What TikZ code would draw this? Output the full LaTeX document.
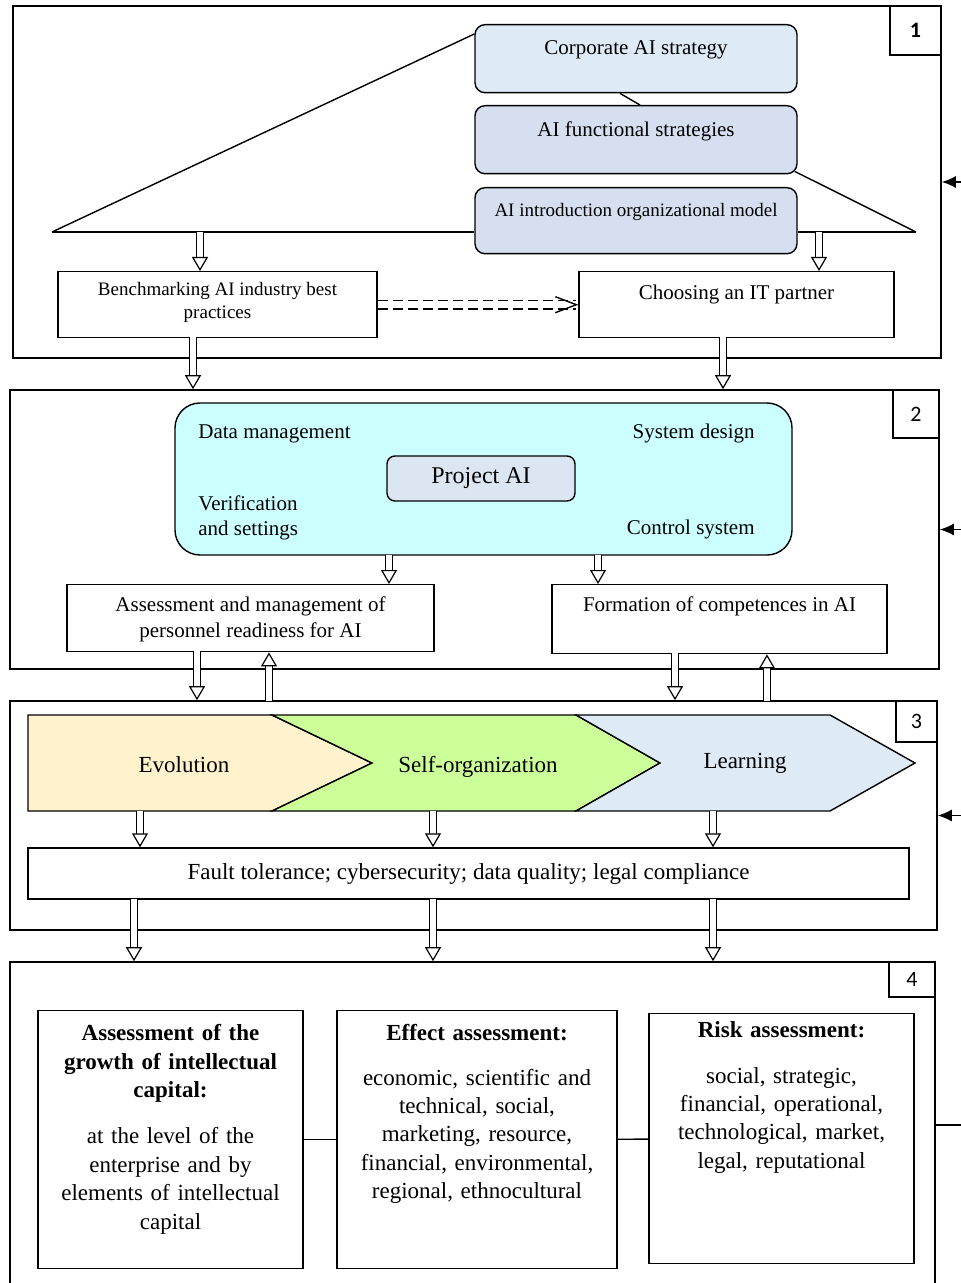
\documentclass[tikz,border=0pt]{standalone}
\usepackage{fontspec}
\setmainfont{Liberation Serif}
\newfontfamily\numfont{Carlito}
\usetikzlibrary{arrows.meta,positioning}

\definecolor{strategyblue}{HTML}{DEEAF6}
\definecolor{modelblue}{HTML}{D6DFF0}
\definecolor{projectcyan}{HTML}{CCFFFF}
\definecolor{projectai}{HTML}{DCE6F2}
\definecolor{evolyellow}{HTML}{FFF2CC}
\definecolor{selfgreen}{HTML}{CCFF99}
\definecolor{learnblue}{HTML}{DEEAF6}

\newcommand{\boxfont}{\fontsize{10.5}{13}\selectfont}
\newcommand{\smallboxfont}{\fontsize{9.5}{11.5}\selectfont}
\newcommand{\bigboxfont}{\fontsize{11.5}{14.2}\selectfont}

\begin{document}
\begin{tikzpicture}[x=0.5pt,y=-0.5pt,
    panel/.style={draw,line width=0.8pt,inner sep=0pt},
    numbox/.style={draw,line width=0.8pt,inner sep=0pt,anchor=north east,font=\numfont\fontsize{11}{13}\selectfont},
    rbox/.style={draw,line width=0.7pt,rounded corners=5pt,inner sep=0pt,align=center,anchor=north,font=\boxfont},
    box/.style={draw,line width=0.7pt,inner sep=0pt,align=center,anchor=north,font=\boxfont},
    harrow/.style={double,double distance=3pt,line width=0.6pt,-{Triangle[open,fill=white,line width=0.6pt,length=7pt,width=8pt]}},
    dasharrow/.style={double,dash pattern=on 5pt off 2.5pt,double distance=3.5pt,line width=0.75pt,-{Straight Barb[line width=0.7pt,length=10.5pt,width=8pt]}},
    fb/.style={line width=0.7pt,-{Latex[length=7pt,width=6pt]}},
    chevron/.style={draw,line width=0.7pt},
  ]
\useasboundingbox (0,0) rectangle (961,1283);

% the four stages
\node[panel,minimum width=464pt,minimum height=176pt] (p1) at (477,182) {};
\node[panel,minimum width=464.5pt,minimum height=139.5pt] (p2) at (474.5,529.5) {};
\node[panel,minimum width=463.5pt,minimum height=114.5pt] (p3) at (473.5,815.5) {};
\node[panel,minimum width=462.5pt,minimum height=163pt] (p4) at (472.5,1125) {};
\node[numbox,minimum width=25.5pt,minimum height=24.5pt,font=\numfont\bfseries\fontsize{11}{13}\selectfont] (n1) at (p1.north east) {1};
\node[numbox,minimum width=23pt,minimum height=24pt] (n2) at (p2.north east) {2};
\node[numbox,minimum width=20.5pt,minimum height=20.5pt] (n3) at (p3.north east) {3};
\node[numbox,minimum width=23pt,minimum height=17.5pt] (n4) at (p4.north east) {4};

% feedback from the right
\coordinate (r1) at (966,182);
\coordinate (r2) at (966,529.5);
\coordinate (r3) at (966,815.5);
\coordinate (r4) at (966,1125);
\draw[fb] (r1) -- (p1.east);
\draw[fb] (r2) -- (p2.east);
\draw[fb] (r3) -- (p3.east);
\draw[line width=0.7pt] (p4.east) -- (r4);

% stage 1: strategy
\node[rbox,fill=strategyblue,minimum width=161pt,text height=15pt,text depth=19pt] (corp) at (636,24) {Corporate AI strategy};
\node[rbox,fill=modelblue,minimum width=161pt,text height=15.5pt,text depth=18.5pt] (func) at (636,105) {AI functional strategies};
\node[rbox,fill=modelblue,minimum width=161pt,text height=14.5pt,text depth=18.5pt,font=\smallboxfont] (orgmodel) at (636,187) {AI introduction organizational model};
\node[box,minimum width=159.5pt,text height=23.5pt,text depth=9.5pt,font=\smallboxfont] (bench) at (217.5,271) {Benchmarking AI industry best\\practices};
\node[box,minimum width=157.5pt,text height=14pt,text depth=19pt] (partner) at (736.5,271) {Choosing an IT partner};

\coordinate (tl) at (52,232);
\coordinate (tr) at (916,232);
\draw[line width=0.7pt] (tl) -- ([yshift=-5pt]corp.north west);
\draw[line width=0.7pt] ([xshift=-8pt]corp.south) -- ([xshift=2pt]func.north);
\draw[line width=0.7pt] (tr) -- ([xshift=-1.5pt,yshift=1.5pt]func.south east);
\draw[line width=0.7pt] (tl) -- (orgmodel.west |- tl);
\draw[line width=0.7pt] (orgmodel.east |- tr) -- (tr);

\coordinate (t1) at (200,232);
\coordinate (t2) at (819,232);
\draw[harrow] (t1) -- (t1 |- bench.north);
\draw[harrow] (t2) -- (t2 |- partner.north);
\draw[dasharrow] (bench.east) -- (partner.west);

\coordinate (b1) at (193,337);
\coordinate (b2) at (723,337);
\draw[harrow] (b1) -- (b1 |- p2.north);
\draw[harrow] (b2) -- (b2 |- p2.north);

% stage 2: project
\node[rbox,fill=projectcyan,rounded corners=12.5pt,minimum width=308.5pt,minimum height=76pt,anchor=center] (proj) at (483.5,479) {};
\node[rbox,fill=projectai,rounded corners=4pt,minimum width=94pt,minimum height=22.5pt,anchor=center,font=\fontsize{12}{14}\selectfont] (projai) at (481,478.5) {Project AI};
\node[anchor=base west,inner sep=0pt,font=\boxfont] (datam) at (198,438) {Data management};
\node[anchor=base east,inner sep=0pt,font=\boxfont] (sysdes) at (755,438) {System design};
\node[anchor=north west,inner sep=0pt,align=left,font=\fontsize{10.5}{12.5}\selectfont] (verif) at (198,495) {Verification\\and settings};
\node[anchor=base east,inner sep=0pt,font=\boxfont] (ctrl) at (755,534) {Control system};

\node[box,minimum width=183.5pt,text height=26.5pt,text depth=7pt] (assess) at (250.5,584) {Assessment and management of\\personnel readiness for AI};
\node[box,minimum width=167.5pt,text height=13.5pt,text depth=21pt] (compet) at (719.5,584) {Formation of competences in AI};

\coordinate (d1) at (389,555);
\coordinate (d2) at (598,555);
\draw[harrow] (d1) -- (d1 |- assess.north);
\draw[harrow] (d2) -- (d2 |- compet.north);

\coordinate (d3) at (197,651);
\coordinate (d4) at (675,653);
\coordinate (u1) at (269,701);
\coordinate (u2) at (767,701);
\draw[harrow] (d3) -- (d3 |- p3.north);
\draw[harrow] (d4) -- (d4 |- p3.north);
\draw[harrow] (u1) -- (u1 |- assess.south);
\draw[harrow] (u2) -- (u2 |- compet.south);

% stage 3: development
\filldraw[chevron,fill=evolyellow] (28,715) -- (272,715) -- (372,763) -- (272,811) -- (28,811) -- cycle;
\filldraw[chevron,fill=selfgreen] (272,715) -- (576,715) -- (660,763) -- (576,811) -- (272,811) -- (372,763) -- cycle;
\filldraw[chevron,fill=learnblue] (576,715) -- (830,715) -- (915,763) -- (830,811) -- (576,811) -- (660,763) -- cycle;
\node[font=\bigboxfont] (evol) at (184,765) {Evolution};
\node[font=\bigboxfont] (selforg) at (478,767) {Self-organization};
\node[font=\bigboxfont] (learn) at (745,763) {Learning};

\node[box,minimum width=440.5pt,minimum height=25.5pt,anchor=center,font=\bigboxfont] (fault) at (468.5,873.5) {Fault tolerance; cybersecurity; data quality; legal compliance};

\coordinate (c1) at (140,811);
\coordinate (c2) at (433,811);
\coordinate (c3) at (713,811);
\draw[harrow] (c1) -- (c1 |- fault.north);
\draw[harrow] (c2) -- (c2 |- fault.north);
\draw[harrow] (c3) -- (c3 |- fault.north);

\coordinate (f1) at (134,899);
\coordinate (f2) at (433,899);
\coordinate (f3) at (713,899);
\draw[harrow] (f1) -- (f1 |- p4.north);
\draw[harrow] (f2) -- (f2 |- p4.north);
\draw[harrow] (f3) -- (f3 |- p4.north);

% stage 4: assessment
\node[box,text width=132.5pt,text height=15pt,text depth=114pt,font=\bigboxfont] (capital) at (170.5,1010)
  {\textbf{Assessment of the\\growth of intellectual\\capital:}\\[9pt]at the level of the\\enterprise and by\\elements of intellectual\\capital};
\node[box,text width=140pt,text height=15pt,text depth=114pt,font=\bigboxfont] (effect) at (477,1010)
  {\textbf{Effect assessment:}\\[8pt]economic, scientific and\\technical, social,\\marketing, resource,\\financial, environmental,\\regional, ethnocultural};
\node[box,text width=132.5pt,text height=12pt,text depth=113pt,font=\bigboxfont] (risk) at (781.5,1013)
  {\textbf{Risk assessment:}\\[8.5pt]social, strategic,\\financial, operational,\\technological, market,\\legal, reputational};
\draw[line width=0.7pt] (capital) -- (effect);
\draw[line width=0.7pt] (effect) -- (risk);
\end{tikzpicture}
\end{document}
